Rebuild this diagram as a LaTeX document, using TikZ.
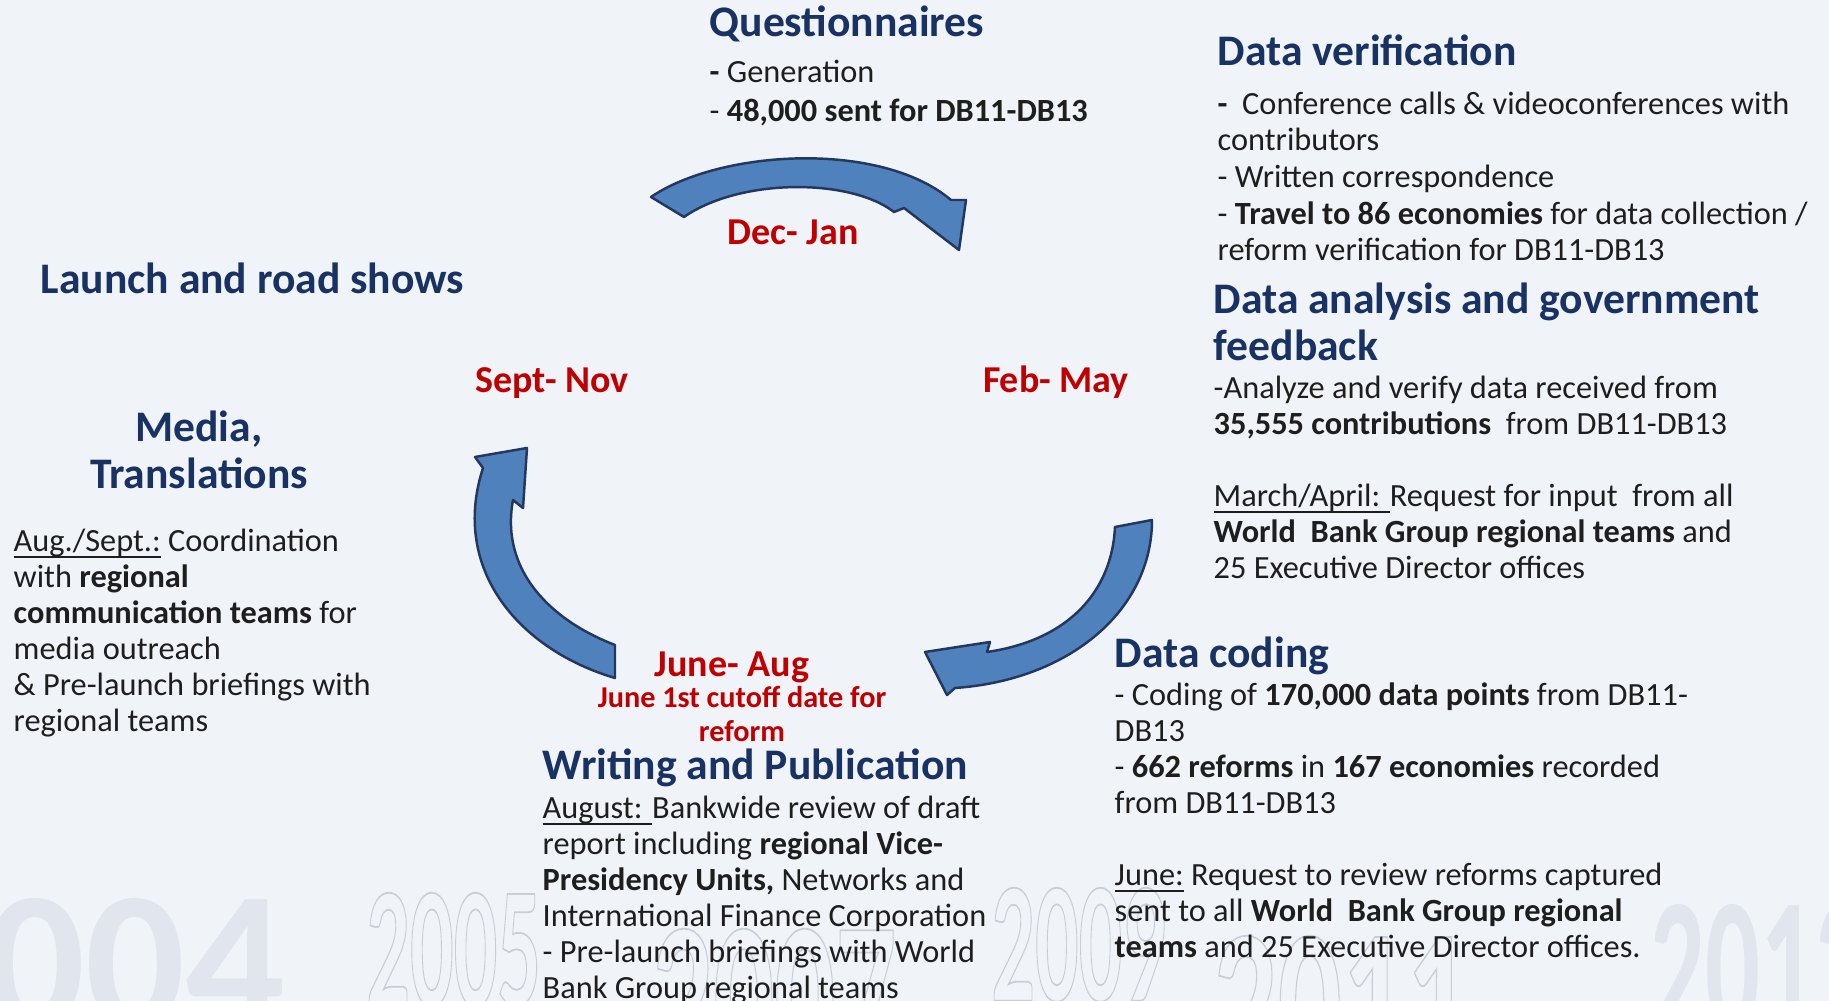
\documentclass[tikz,border=0pt]{standalone}
\usepackage{fontspec}
\setmainfont{Carlito}
\usetikzlibrary{calc}

\definecolor{headblue}{RGB}{25,50,100}
\definecolor{datered}{RGB}{192,0,0}
\definecolor{bodytext}{RGB}{30,30,30}
\definecolor{arrowfill}{RGB}{79,129,189}
\definecolor{arrowline}{RGB}{35,55,95}
\definecolor{slidebg}{RGB}{240,243,248}
\definecolor{yearsolid}{RGB}{225,229,237}
\definecolor{yearline}{RGB}{200,205,216}

\newcommand{\outlined}[1]{\special{pdf:literal direct 1 Tr 0.5 w}#1\special{pdf:literal direct 0 Tr}}

\tikzset{
  heading/.style={anchor=base west, inner sep=0, text=headblue, font=\fontsize{12.4}{13.6}\selectfont\bfseries},
  body/.style={anchor=north west, inner sep=0, align=left, text=bodytext, font=\fontsize{9.2}{10.24}\selectfont},
  period/.style={anchor=base, inner sep=0, text=datered, font=\fontsize{10.8}{12}\selectfont\bfseries},
  bluearrow/.style={fill=arrowfill, draw=arrowline, line width=0.7pt, line join=round},
  yearmark/.style={anchor=north west, inner sep=0, font=\fontsize{#1}{#1}\selectfont\bfseries},
}

\begin{document}
\begin{tikzpicture}[x=0.01cm, y=-0.01cm]
\useasboundingbox (0,0) rectangle (1829,1001);
\fill[slidebg] (0,0) rectangle (1829,1001);

% years in the background
\begin{scope}
  \clip (0,0) rectangle (1829,1001);
  \node[yearmark=56, text=yearsolid] (y2004) at (-15,898) {004};
  \node[yearmark=49, text=yearline, xscale=0.5] (y2005) at (366,892) {\outlined{2005}};
  \node[yearmark=60, text=yearline, xscale=0.57] (y2007) at (652,928) {\outlined{2007}};
  \node[yearmark=49, text=yearline, xscale=0.5] (y2009) at (991,887) {\outlined{2009}};
  \node[yearmark=60, text=yearline, xscale=0.6] (y2011) at (1213,935) {\outlined{2011}};
  \node[yearmark=56, text=yearsolid, xscale=0.55] (y2012) at (1650,904) {2012};
\end{scope}

% cycle arrows
\draw[bluearrow] (651,197) .. controls (720,150) and (880,140) .. (951,200) -- (966,200) -- (959,250) -- (904,208) -- (894,212) .. controls (850,178) and (740,178) .. (684,217) -- cycle;
\draw[bluearrow] (1115,527) -- (1152,520) .. controls (1152,610) and (1070,680) .. (955,688) -- (947,695) -- (925,652) -- (990,642) -- (987,652) .. controls (1070,640) and (1112,590) .. (1115,527) -- cycle;
\draw[bluearrow] (615,645) -- (615,678) .. controls (520,650) and (450,570) .. (483,468) -- (475,457) -- (527,448) -- (523,508) -- (513,500) .. controls (500,570) and (550,620) .. (615,645) -- cycle;

% periods
\node[period] (decjan) at (793,245) {Dec- Jan};
\node[period] (febmay) at (1056,393) {Feb- May};
\node[period] (sepnov) at (552,393) {Sept- Nov};
\node[period] (junaug) at (732,677) {June- Aug};
\node[anchor=north, inner sep=0, align=center, text=datered, font=\fontsize{8.6}{9.6}\selectfont\bfseries] (cutoff) at (742,683) {\strut June 1st cutoff date for\\ reform};

% questionnaires
\node[heading] (quest) at (709,37) {Questionnaires};
\node[body, font=\fontsize{9.2}{10.95}\selectfont] (questtxt) at (709,55) {\strut{\bfseries -} Generation\\ - \textbf{48,000 sent for DB11-DB13}};

% verification
\node[heading] (verif) at (1217,66) {Data verification};
\node[body, font=\fontsize{9.2}{10.42}\selectfont] (veriftxt) at (1217,88) {\strut{\bfseries -}\ \ Conference calls \& videoconferences with\\ contributors\\ - Written correspondence\\ - \textbf{Travel to 86 economies} for data collection /\\ reform verification for DB11-DB13};

% analysis
\node[heading, anchor=north west, align=left] (anal) at (1213,279) {\strut Data analysis and government\\ feedback};
\node[body] (analtxt) at (1213,373) {\strut -Analyze and verify data received from\\ \textbf{35,555 contributions}\ \ from DB11-DB13\\ \\ \underbar{March/April: }Request for input\ \ from all\\ \textbf{World\ \ Bank Group regional teams} and\\ 25 Executive Director offices};

% coding
\node[heading] (coding) at (1114,668) {Data coding};
\node[body] (codingtxt) at (1114,680) {\strut - Coding of \textbf{170,000 data points} from DB11-\\ DB13\\ - \textbf{662 reforms} in \textbf{167 economies} recorded\\ from DB11-DB13\\ \\ \underbar{June:} Request to review reforms captured\\ sent to all \textbf{World\ \ Bank Group regional}\\ \textbf{teams} and 25 Executive Director offices.};

% writing
\node[heading] (writing) at (542,780) {Writing and Publication};
\node[body] (writingtxt) at (542,793) {\strut\underbar{August: }Bankwide review of draft\\ report including \textbf{regional Vice-}\\ \textbf{Presidency Units,} Networks and\\ International Finance Corporation\\ - Pre-launch briefings with World\\ Bank Group regional teams};

% launch and media
\node[heading] (launch) at (40,294) {Launch and road shows};
\node[heading, anchor=north, align=center] (media) at (199,407) {\strut Media,\\ Translations};
\node[body] (mediatxt) at (13,526) {\strut\underbar{Aug./Sept.:} Coordination\\ with \textbf{regional}\\ \textbf{communication teams} for\\ media outreach\\ \& Pre-launch briefings with\\ regional teams};

\end{tikzpicture}
\end{document}
